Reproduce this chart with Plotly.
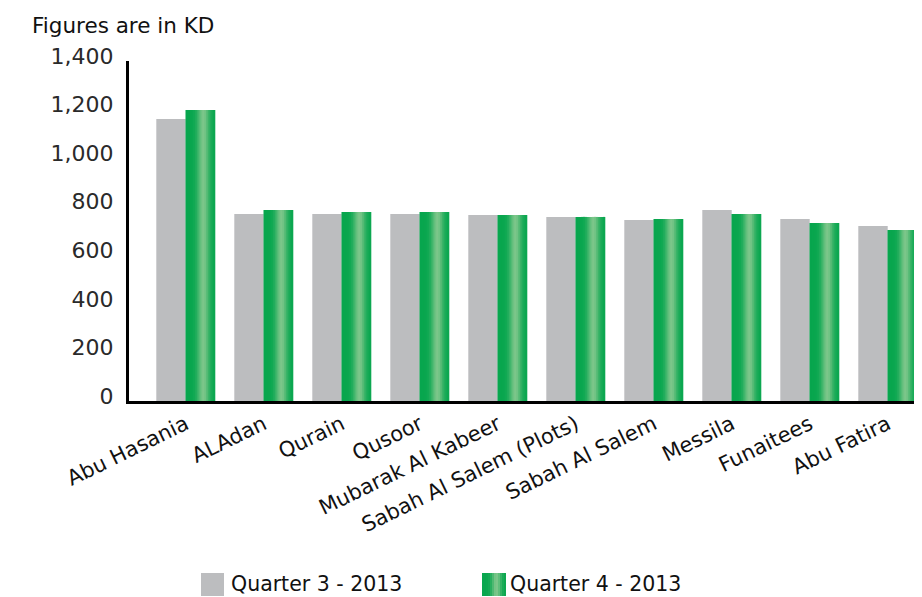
import numpy as np
import plotly.graph_objects as go

# Values (KD)
areas = ["Abu Hasania", "ALAdan", "Qurain", "Qusoor", "Mubarak Al Kabeer",
         "Sabah Al Salem (Plots)", "Sabah Al Salem", "Messila", "Funaitees", "Abu Fatira"]
q3_2013 = [1161, 770, 770, 770, 766, 758, 745, 786, 749, 721]
q4_2013 = [1198, 786, 778, 778, 766, 758, 749, 770, 733, 704]
y_ticks = [0, 200, 400, 600, 800, 1000, 1200, 1400]
series_names = ["Quarter 3 - 2013", "Quarter 4 - 2013"]

GRAY = "#bcbdbf"
DARK = np.array([8, 166, 78])
LIGHT = np.array([124, 198, 138])
BAR_W = 0.377
N_STRIPS = 16
LABEL_FONT = "DejaVu Sans"
TEXT = "#111111"

# the page body has an 8px margin, so the figure is drawn 8px in from the corner
OFF = 8
W, H = 922 - OFF, 597 - OFF

def shade(t):
    # horizontal "cylinder" highlight, a bit right of centre
    f = np.exp(-((t - 0.6) / 0.2) ** 2)
    c = DARK + (LIGHT - DARK) * f
    return "rgb({},{},{})".format(*[int(round(v)) for v in c])

fig = go.Figure()
fig.add_trace(go.Bar(
    x = areas, y = q3_2013, name = series_names[0],
    offset = -BAR_W, width = BAR_W,
    marker = dict(color = GRAY, line = dict(width = 0)),
))
fig.add_trace(go.Bar(
    x = areas, y = q4_2013, name = series_names[1],
    offset = 0, width = BAR_W,
    marker = dict(color = shade(0.0), line = dict(width = 0)),
))
# gradient: overlapping strips, each one covering half of the previous
strip = BAR_W / N_STRIPS
for k in range(N_STRIPS):
    t = (k + 0.5) / N_STRIPS
    fig.add_trace(go.Bar(
        x = areas, y = q4_2013, name = series_names[1],
        offset = k * strip, width = strip * (2 if k < N_STRIPS - 1 else 1),
        marker = dict(color = shade(t), line = dict(width = 0)),
        hoverinfo = "skip",
    ))

# plot area in screen pixels of the reference
PLOT_L, PLOT_R, PLOT_T, PLOT_B = 129, 920, 61, 401
def px(x):
    return (x - PLOT_L) / (PLOT_R - PLOT_L)
def py(y):
    return (PLOT_B - y) / (PLOT_B - PLOT_T)

# legend drawn by hand so the swatches can be large
fig.add_shape(type = "rect", xref = "paper", yref = "paper",
    x0 = px(201), x1 = px(224), y0 = py(573), y1 = py(596),
    fillcolor = GRAY, line = dict(width = 0))
n_leg = 12
for k in range(n_leg):
    x0 = 482 + 24 * k / n_leg
    w = 24 / n_leg * (2 if k < n_leg - 1 else 1)
    fig.add_shape(type = "rect", xref = "paper", yref = "paper",
        x0 = px(x0), x1 = px(x0 + w), y0 = py(573), y1 = py(596),
        fillcolor = shade((k + 0.5) / n_leg), line = dict(width = 0))
for name, x in zip(series_names, [229, 508]):
    fig.add_annotation(text = name, xref = "paper", yref = "paper",
        x = px(x), y = py(584), xanchor = "left", yanchor = "middle",
        showarrow = False, font = dict(family = LABEL_FONT, size = 20.5, color = TEXT))

fig.update_layout(
    width = W, height = H,
    barmode = "overlay",
    plot_bgcolor = "white", paper_bgcolor = "white",
    margin = dict(l = PLOT_L - OFF, r = W - (PLOT_R - OFF), t = PLOT_T - OFF, b = H - (PLOT_B - OFF)),
    showlegend = False,
    title = dict(text = "Figures are in KD", x = (32 - OFF) / W, xanchor = "left",
        y = 1 - (25 - OFF) / H, yanchor = "middle",
        font = dict(family = LABEL_FONT, size = 21.5, color = TEXT)),
)
fig.update_xaxes(
    range = [-0.727, 9.414], showgrid = False, zeroline = False,
    showline = True, linecolor = "black", linewidth = 3,
    tickangle = -26, tickfont = dict(family = LABEL_FONT, size = 21, color = TEXT),
    ticks = "", ticklen = 0,
)
fig.update_yaxes(
    range = [0, 1400], tickvals = y_ticks, tickformat = ",",
    showgrid = False, zeroline = False,
    showline = True, linecolor = "black", linewidth = 3,
    tickfont = dict(family = "DejaVu Sans", size = 22, color = "#2a2a2a"),
    ticks = "outside", ticklen = 8, tickcolor = "rgba(0,0,0,0)",
    ticklabelshift = -5,
)

fig.write_html("out.html")
